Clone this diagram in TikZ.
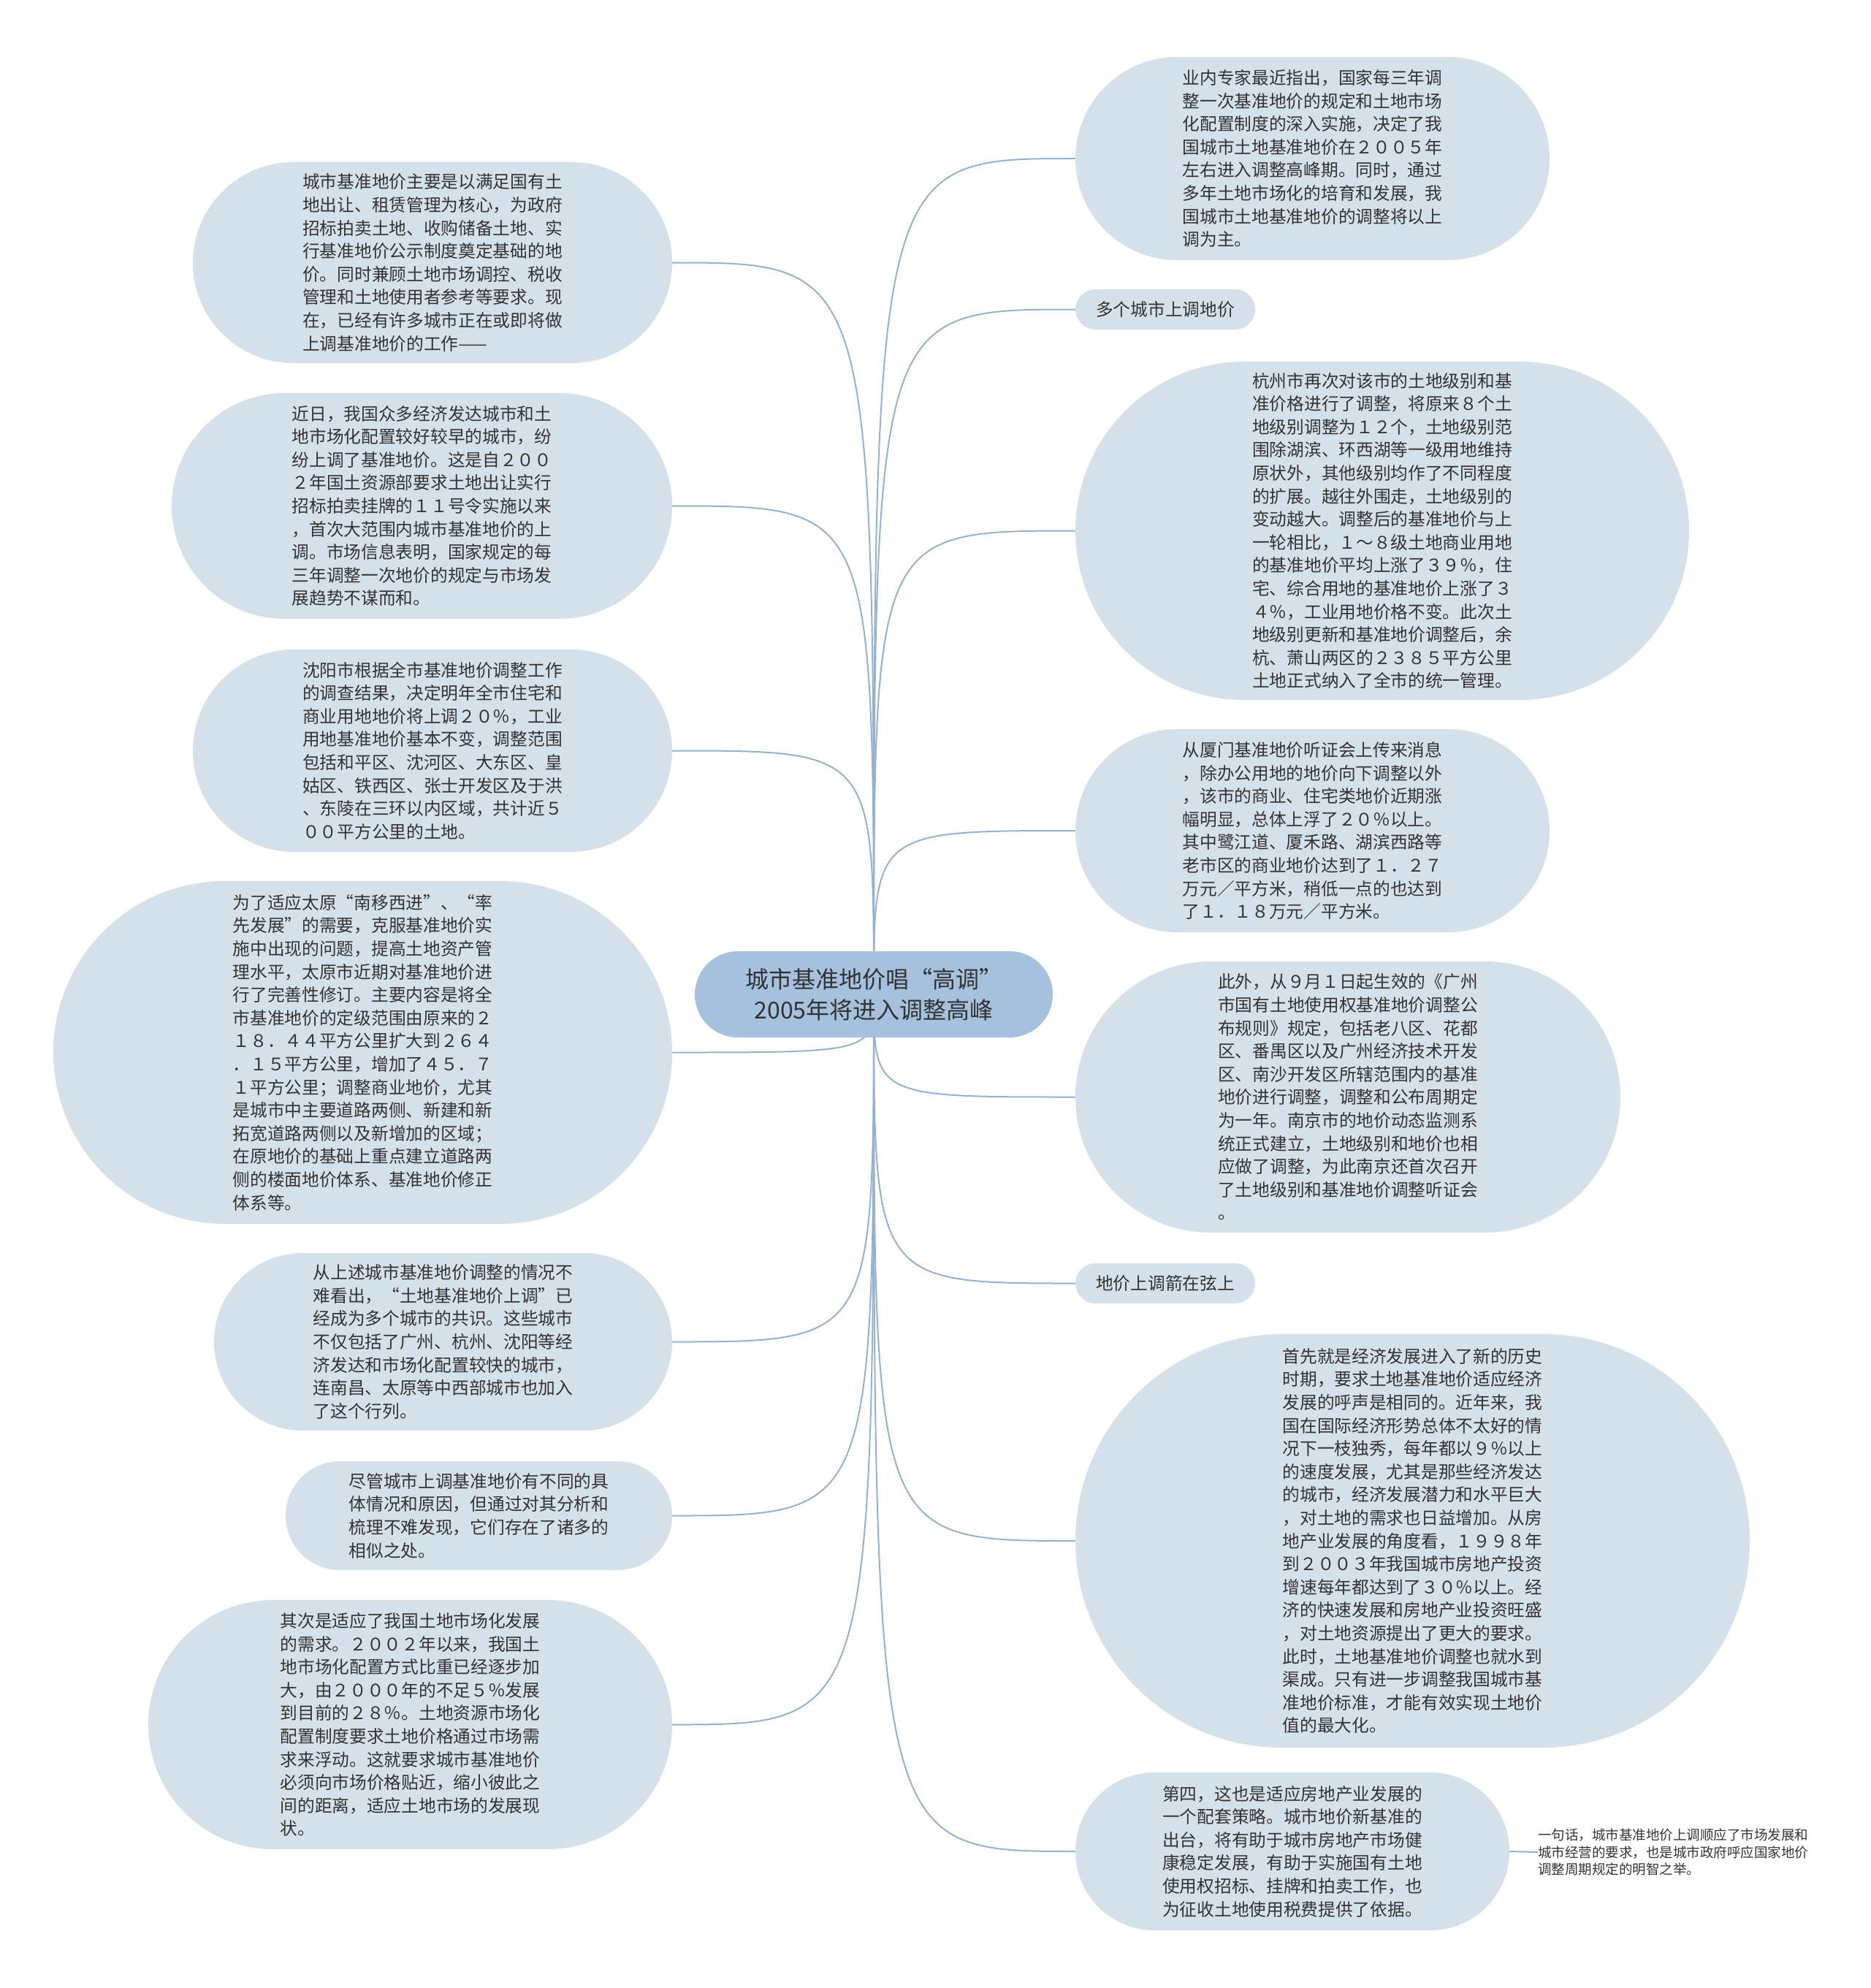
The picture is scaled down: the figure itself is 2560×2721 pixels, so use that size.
\documentclass[tikz,border=0pt]{standalone}
\usepackage{fontspec}
\setmainfont{Noto Sans CJK SC}
\usetikzlibrary{backgrounds}
\definecolor{leaffill}{HTML}{D5E1EA}
\definecolor{rootfill}{HTML}{A5C1DD}
\definecolor{linkblue}{HTML}{94B2CE}
\definecolor{inktext}{HTML}{333333}

\begin{document}
\begin{tikzpicture}[x=1pt, y=-1pt,
leaf/.style 2 args={fill=leaffill, text=inktext, align=left, inner sep=0pt, minimum width=#1pt, minimum height=#2pt, rounded corners=0.5*#2pt, font=\fontsize{23.7}{31.6}\selectfont},
root/.style={fill=rootfill, text=inktext, align=center, inner sep=0pt, minimum width=490pt, minimum height=118pt, rounded corners=59pt, font=\fontsize{32}{42}\selectfont},
note/.style={text=inktext, align=left, inner sep=0pt, font=\fontsize{18.5}{23.4}\selectfont},
link/.style={draw=linkblue, line width=2pt}]
\useasboundingbox (0,0) rectangle (2560,2721);

\node[root] (root) at (1196,1361) {城市基准地价唱“高调”\\2005年将进入调整高峰};

% left branch
\node[leaf={656}{275}] (l1) at (592,359.5) {城市基准地价主要是以满足国有土\\地出让、租赁管理为核心，为政府\\招标拍卖土地、收购储备土地、实\\行基准地价公示制度奠定基础的地\\价。同时兼顾土地市场调控、税收\\管理和土地使用者参考等要求。现\\在，已经有许多城市正在或即将做\\上调基准地价的工作——};
\node[leaf={685}{309}] (l2) at (577.5,692.5) {近日，我国众多经济发达城市和土\\地市场化配置较好较早的城市，纷\\纷上调了基准地价。这是自２００\\２年国土资源部要求土地出让实行\\招标拍卖挂牌的１１号令实施以来\\，首次大范围内城市基准地价的上\\调。市场信息表明，国家规定的每\\三年调整一次地价的规定与市场发\\展趋势不谋而和。};
\node[leaf={656}{277}] (l3) at (592,1027.5) {沈阳市根据全市基准地价调整工作\\的调查结果，决定明年全市住宅和\\商业用地地价将上调２０％，工业\\用地基准地价基本不变，调整范围\\包括和平区、沈河区、大东区、皇\\姑区、铁西区、张士开发区及于洪\\、东陵在三环以内区域，共计近５\\００平方公里的土地。};
\node[leaf={847}{469}] (l4) at (496.5,1440.5) {为了适应太原“南移西进”、“率\\先发展”的需要，克服基准地价实\\施中出现的问题，提高土地资产管\\理水平，太原市近期对基准地价进\\行了完善性修订。主要内容是将全\\市基准地价的定级范围由原来的２\\１８．４４平方公里扩大到２６４\\．１５平方公里，增加了４５．７\\１平方公里；调整商业地价，尤其\\是城市中主要道路两侧、新建和新\\拓宽道路两侧以及新增加的区域；\\在原地价的基础上重点建立道路两\\侧的楼面地价体系、基准地价修正\\体系等。};
\node[leaf={627}{243}] (l5) at (606.5,1836.5) {从上述城市基准地价调整的情况不\\难看出，“土地基准地价上调”已\\经成为多个城市的共识。这些城市\\不仅包括了广州、杭州、沈阳等经\\济发达和市场化配置较快的城市，\\连南昌、太原等中西部城市也加入\\了这个行列。};
\node[leaf={529}{149}] (l6) at (655.5,2074.5) {尽管城市上调基准地价有不同的具\\体情况和原因，但通过对其分析和\\梳理不难发现，它们存在了诸多的\\相似之处。};
\node[leaf={717}{341}] (l7) at (561.5,2360.5) {其次是适应了我国土地市场化发展\\的需求。２００２年以来，我国土\\地市场化配置方式比重已经逐步加\\大，由２０００年的不足５％发展\\到目前的２８％。土地资源市场化\\配置制度要求土地价格通过市场需\\求来浮动。这就要求城市基准地价\\必须向市场价格贴近，缩小彼此之\\间的距离，适应土地市场的发展现\\状。};

% right branch
\node[leaf={649}{278}] (r1) at (1796.5,217) {业内专家最近指出，国家每三年调\\整一次基准地价的规定和土地市场\\化配置制度的深入实施，决定了我\\国城市土地基准地价在２００５年\\左右进入调整高峰期。同时，通过\\多年土地市场化的培育和发展，我\\国城市土地基准地价的调整将以上\\调为主。};
\node[leaf={246}{55}] (r2) at (1595,423.5) {多个城市上调地价};
\node[leaf={840}{463}] (r3) at (1892,726.5) {杭州市再次对该市的土地级别和基\\准价格进行了调整，将原来８个土\\地级别调整为１２个，土地级别范\\围除湖滨、环西湖等一级用地维持\\原状外，其他级别均作了不同程度\\的扩展。越往外围走，土地级别的\\变动越大。调整后的基准地价与上\\一轮相比，１～８级土地商业用地\\的基准地价平均上涨了３９％，住\\宅、综合用地的基准地价上涨了３\\４％，工业用地价格不变。此次土\\地级别更新和基准地价调整后，余\\杭、萧山两区的２３８５平方公里\\土地正式纳入了全市的统一管理。};
\node[leaf={649}{278}] (r4) at (1796.5,1137) {从厦门基准地价听证会上传来消息\\，除办公用地的地价向下调整以外\\，该市的商业、住宅类地价近期涨\\幅明显，总体上浮了２０％以上。\\其中鹭江道、厦禾路、湖滨西路等\\老市区的商业地价达到了１．２７\\万元／平方米，稍低一点的也达到\\了１．１８万元／平方米。};
\node[leaf={746}{371}] (r5) at (1845,1501.5) {此外，从９月１日起生效的《广州\\市国有土地使用权基准地价调整公\\布规则》规定，包括老八区、花都\\区、番禺区以及广州经济技术开发\\区、南沙开发区所辖范围内的基准\\地价进行调整，调整和公布周期定\\为一年。南京市的地价动态监测系\\统正式建立，土地级别和地价也相\\应做了调整，为此南京还首次召开\\了土地级别和基准地价调整听证会\\。};
\node[leaf={246}{55}] (r6) at (1595,1756.5) {地价上调箭在弦上};
\node[leaf={923}{566}] (r7) at (1933.5,2109) {首先就是经济发展进入了新的历史\\时期，要求土地基准地价适应经济\\发展的呼声是相同的。近年来，我\\国在国际经济形势总体不太好的情\\况下一枝独秀，每年都以９％以上\\的速度发展，尤其是那些经济发达\\的城市，经济发展潜力和水平巨大\\，对土地的需求也日益增加。从房\\地产业发展的角度看，１９９８年\\到２００３年我国城市房地产投资\\增速每年都达到了３０％以上。经\\济的快速发展和房地产业投资旺盛\\，对土地资源提出了更大的要求。\\此时，土地基准地价调整也就水到\\渠成。只有进一步调整我国城市基\\准地价标准，才能有效实现土地价\\值的最大化。};
\node[leaf={594}{216}] (r8) at (1769,2534) {第四，这也是适应房地产业发展的\\一个配套策略。城市地价新基准的\\出台，将有助于城市房地产市场健\\康稳定发展，有助于实施国有土地\\使用权招标、挂牌和拍卖工作，也\\为征收土地使用税费提供了依据。};
\node[note] (r9) at (2290,2535) {一句话，城市基准地价上调顺应了市场发展和\\城市经营的要求，也是城市政府呼应国家地价\\调整周期规定的明智之举。};

\begin{scope}[on background layer]
\foreach \leaf in {l1,l2,l3,l4,l5,l6,l7}
  \draw[link] (root.center) .. controls (root.center |- \leaf.east) .. (\leaf.east);
\foreach \leaf in {r1,r2,r3,r4,r5,r6,r7,r8}
  \draw[link] (root.center) .. controls (root.center |- \leaf.west) .. (\leaf.west);
\draw[link] (r8.east) -- (r9.west);
\end{scope}
\end{tikzpicture}
\end{document}
